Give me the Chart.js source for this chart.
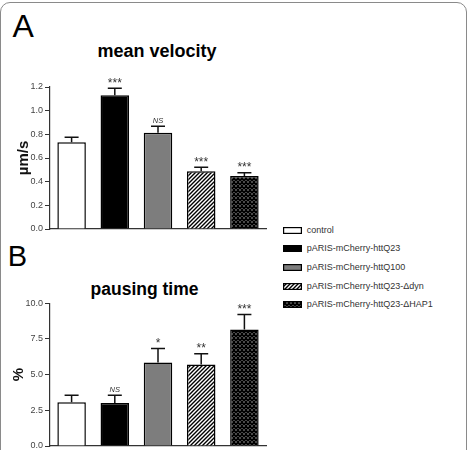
<!DOCTYPE html>
<html><head><meta charset="utf-8">
<script src="https://cdn.jsdelivr.net/npm/chart.js@4.4.1/dist/chart.umd.min.js"></script>
<style>
html,body{margin:0;padding:0;background:#fff;overflow:hidden;width:468px;height:450px;}
body{position:relative;font-family:"Liberation Sans",Arial,sans-serif;}
#frame{position:absolute;left:0;top:2px;width:467px;height:470px;box-sizing:border-box;border:1px solid #8a8a8a;border-radius:10px;}
.lbl{position:absolute;white-space:nowrap;line-height:1;color:#000;}
.ttl{position:absolute;white-space:nowrap;line-height:1;color:#000;font-weight:bold;transform:translateX(-50%);}
canvas.chart{position:absolute;left:0;}
.sw{position:absolute;left:283px;}
.lt{position:absolute;left:306.7px;font-size:9px;line-height:1;color:#333;white-space:nowrap;}
</style></head>
<body>
<div id="frame"></div>
<div class="lbl" style="left:12.5px;top:10px;font-size:32px;">A</div>
<div class="lbl" style="left:7.8px;top:242px;font-size:29px;">B</div>
<div class="ttl" style="left:157px;top:41.5px;font-size:18px;">mean velocity</div>
<div class="ttl" style="left:144.5px;top:281px;font-size:17.5px;">pausing time</div>
<canvas id="cA" class="chart" width="280" height="240" style="top:0;width:280px;height:240px;"></canvas>
<canvas id="cB" class="chart" width="280" height="215" style="top:240px;width:280px;height:215px;"></canvas>
<div id="legend"></div>
<script>
// ---- data ----
const categories = ['control', 'pARIS-mCherry-httQ23', 'pARIS-mCherry-httQ100', 'pARIS-mCherry-httQ23-\u0394dyn', 'pARIS-mCherry-httQ23-\u0394HAP1'];
const velocity = [0.733, 1.13, 0.814, 0.488, 0.448];
const velocityErr = [0.042, 0.06, 0.054, 0.033, 0.028];
const velocitySig = ['', '***', 'NS', '***', '***'];
const velocityTicks = [0, 0.2, 0.4, 0.6, 0.8, 1.0, 1.2];
const pausing = [3.06, 3.02, 5.86, 5.71, 8.16];
const pausingErr = [0.5, 0.53, 0.98, 0.75, 1.05];
const pausingSig = ['', 'NS', '*', '**', '***'];
const pausingTicks = [0, 2.5, 5.0, 7.5, 10.0];
const fillKinds = ['white', 'black', 'gray', 'hatch', 'check'];

const FONT = '"Liberation Sans", Arial, sans-serif';
Chart.defaults.font.family = FONT;

function makePattern(kind) {
  const c = document.createElement('canvas');
  c.width = 4; c.height = 4;
  const g = c.getContext('2d');
  g.fillStyle = '#fff'; g.fillRect(0, 0, 4, 4);
  g.strokeStyle = '#000';
  if (kind === 'hatch') {
    g.lineWidth = 1.4;
    g.beginPath();
    g.moveTo(-1, 5); g.lineTo(5, -1);
    g.moveTo(-1, 1); g.lineTo(1, -1);
    g.moveTo(3, 5); g.lineTo(5, 3);
    g.stroke();
  } else {
    g.lineWidth = 1.7;
    g.beginPath();
    g.moveTo(-1, -1); g.lineTo(5, 5);
    g.moveTo(-1, 5); g.lineTo(5, -1);
    g.stroke();
  }
  return g.createPattern(c, 'repeat');
}
function fillFor(kind) {
  if (kind === 'white') return '#ffffff';
  if (kind === 'black') return '#000000';
  if (kind === 'gray') return '#7d7d7d';
  return makePattern(kind);
}
const fills = fillKinds.map(fillFor);

const errPlugin = {
  id: 'errs',
  afterDatasetsDraw(chart) {
    const ds = chart.data.datasets[0];
    const meta = chart.getDatasetMeta(0);
    const y = chart.scales.y;
    const ctx = chart.ctx;
    ctx.save();
    meta.data.forEach((bar, i) => {
      const top = y.getPixelForValue(ds.data[i] + ds.errors[i]);
      const x = bar.x;
      ctx.strokeStyle = '#111';
      ctx.lineWidth = 1.5;
      ctx.beginPath();
      ctx.moveTo(x, bar.y); ctx.lineTo(x, top);
      ctx.moveTo(x - 7, top); ctx.lineTo(x + 7, top);
      ctx.stroke();
      const s = ds.sig[i];
      if (s) {
        ctx.textAlign = 'center';
        ctx.textBaseline = 'alphabetic';
        ctx.fillStyle = '#333';
        if (s === 'NS') {
          ctx.font = 'italic 7.5px ' + FONT;
          ctx.fillText(s, x, top - 3.5);
        } else {
          ctx.font = '12px ' + FONT;
          ctx.fillText(s, x, top - 1.5);
        }
      }
    });
    ctx.restore();
  }
};

function makeChart(id, values, errs, sig, ticks, maxV, yTitle, titlePad, pad) {
  return new Chart(document.getElementById(id), {
    type: 'bar',
    data: {
      labels: categories,
      datasets: [{
        data: values,
        errors: errs,
        sig: sig,
        backgroundColor: fills,
        borderColor: '#000',
        borderWidth: 1.5,
        categoryPercentage: 1,
        barPercentage: 0.66
      }]
    },
    options: {
      responsive: false,
      animation: false,
      events: [],
      layout: { padding: pad },
      plugins: { legend: { display: false }, tooltip: { enabled: false } },
      scales: {
        x: {
          type: 'category',
          ticks: { display: false },
          grid: { display: false },
          border: { display: true, color: '#333', width: 1.2 },
          afterFit: s => { s.height = 0; }
        },
        y: {
          min: 0, max: maxV,
          afterBuildTicks: s => { s.ticks = ticks.map(v => ({ value: v })); },
          ticks: {
            callback: v => v.toFixed(1),
            font: { size: 9 },
            color: '#444',
            padding: 2
          },
          grid: { display: true, drawOnChartArea: false, drawTicks: true, tickLength: 5, color: '#333', lineWidth: 1 },
          border: { display: true, color: '#333', width: 1.2 },
          title: { display: true, text: yTitle, font: { size: 15, weight: 'bold' }, color: '#111', padding: { top: titlePad, bottom: 0 } },
          afterFit: s => { s.width = 50; }
        }
      }
    },
    plugins: [errPlugin]
  });
}

makeChart('cA', velocity, velocityErr, velocitySig, velocityTicks, 1.2, '\u00b5m/s', 14.5, { top: 87, bottom: 11, left: 0, right: 14 });
makeChart('cB', pausing, pausingErr, pausingSig, pausingTicks, 10, '%', 9.7, { top: 63.3, bottom: 9, left: 0, right: 14 });

// legend
const legendY = [230, 248.5, 267.3, 286, 304.5];
const leg = document.getElementById('legend');
categories.forEach((name, i) => {
  const c = document.createElement('canvas');
  c.width = 19; c.height = 7;
  c.className = 'sw';
  c.style.top = (legendY[i] - 3.5) + 'px';
  const g = c.getContext('2d');
  g.fillStyle = fills[i];
  g.fillRect(0, 0, 19, 7);
  g.strokeStyle = '#000'; g.lineWidth = 1.2;
  g.strokeRect(0.6, 0.6, 17.8, 5.8);
  leg.appendChild(c);
  const t = document.createElement('div');
  t.className = 'lt';
  t.style.top = (legendY[i] - 4.5) + 'px';
  t.textContent = name;
  leg.appendChild(t);
});
</script>
</body></html>
